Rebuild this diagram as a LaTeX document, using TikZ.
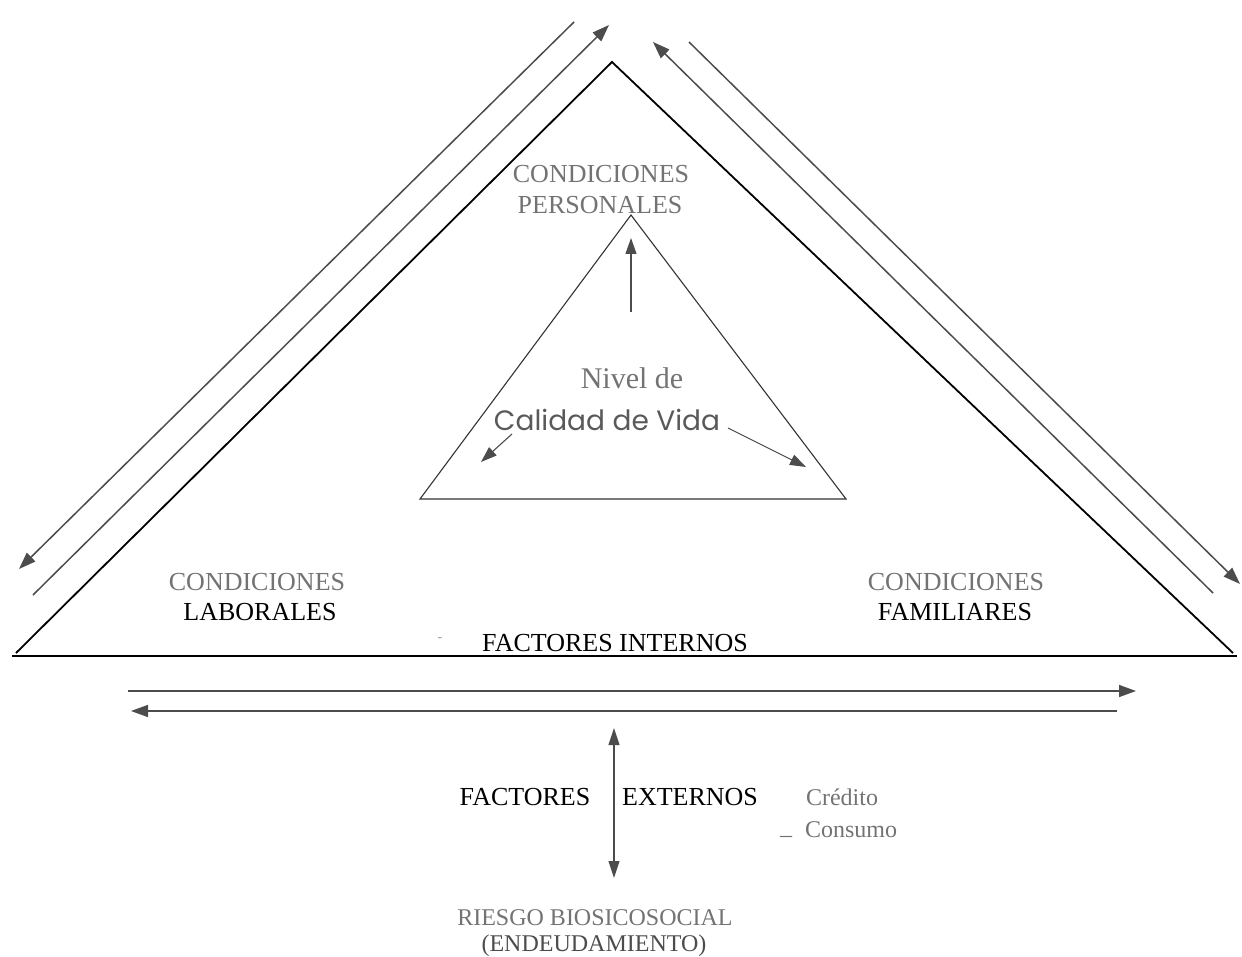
\documentclass[tikz,border=0pt]{standalone}
\usepackage{fontspec}
\setmainfont{Liberation Serif}
\newfontfamily\geofont{Poppins}
\usetikzlibrary{arrows.meta}
\begin{document}
\begin{tikzpicture}[x=1pt,y=-1pt,
  lbl/.style={font=\fontsize{26}{28}\selectfont, inner sep=0pt, anchor=center},
  dim/.style={text=black!55},
  small/.style={font=\fontsize{24}{26}\selectfont, inner sep=0pt, anchor=center},
  frame/.style={draw=black, line width=1.8pt, line join=miter},
  innerframe/.style={draw=black!80, line width=1.1pt, line join=miter},
  flow/.style={draw=black!70, line width=1.5pt, -{Triangle[length=17pt,width=12pt]}},
  thinflow/.style={draw=black!70, line width=1.1pt, -{Triangle[length=16pt,width=11pt]}},
  both/.style={draw=black!70, line width=1.1pt, {Triangle[length=17pt,width=11pt]}-{Triangle[length=17pt,width=11pt]}}]
\useasboundingbox (0,0) rectangle (1242,957);

% outer triangle
\coordinate (A) at (612,62);
\coordinate (BL) at (16,653);
\coordinate (BR) at (1233,653);
\coordinate (BLx) at (12,656);
\coordinate (BRx) at (1237,656);
\draw[frame] (BR) -- (A) -- (BL);
\draw[frame] (BLx) -- (BRx);

% inner triangle
\coordinate (a) at (631,215);
\coordinate (bl) at (420,499);
\coordinate (br) at (846,499);
\draw[innerframe] (a) -- (bl) -- (br) -- cycle;

% left parallel arrows
\coordinate (L1s) at (574,22);
\coordinate (L1e) at (19,569);
\coordinate (L2s) at (33,595);
\coordinate (L2e) at (609,25);
\draw[flow] (L1s) -- (L1e);
\draw[flow] (L2s) -- (L2e);

% right parallel arrows
\coordinate (R1s) at (1213,593);
\coordinate (R1e) at (653,42);
\coordinate (R2s) at (689,42);
\coordinate (R2e) at (1240,584);
\draw[flow] (R1s) -- (R1e);
\draw[flow] (R2s) -- (R2e);

% horizontal arrows
\coordinate (H1s) at (128,691);
\coordinate (H1e) at (1136,691);
\coordinate (H2s) at (1117,711);
\coordinate (H2e) at (131,711);
\draw[flow] (H1s) -- (H1e);
\draw[flow] (H2s) -- (H2e);

% texts
\node[lbl,dim] (cp1) at (601,174) {CONDICIONES};
\node[lbl,dim] (cp2) at (600,205) {PERSONALES};
\node[lbl,dim] (cl1) at (257,582) {CONDICIONES};
\node[lbl] (cl2) at (260,612) {LABORALES};
\node[lbl,dim] (cf1) at (956,582) {CONDICIONES};
\node[lbl] (cf2) at (955,612) {FAMILIARES};
\node[lbl] (fi) at (615,643) {FACTORES INTERNOS};
\node[font=\fontsize{14}{16}\selectfont, text=black!40, inner sep=0pt] (dash) at (440,640) {-};

\node[font=\fontsize{30}{32}\selectfont, inner sep=0pt, dim] (nivel) at (632,378) {Nivel de};
\node[font=\geofont\fontsize{28}{30}\selectfont, inner sep=0pt, text=black!65] (cal) at (607,420) {Calidad de Vida};

% inner arrows
\coordinate (vup) at (631,312);
\coordinate (vtip) at (631,238);
\draw[thinflow] (vup) -- (vtip);
\coordinate (cl) at (512,434);
\coordinate (clt) at (481,462);
\draw[thinflow] (cl) -- (clt);
\coordinate (cr) at (728,428);
\coordinate (crt) at (806,467);
\draw[thinflow] (cr) -- (crt);

% external factors
\coordinate (vt) at (614,728);
\coordinate (vb) at (614,878);
\draw[both] (vt) -- (vb);
\node[lbl] (fe1) at (525,797) {FACTORES};
\node[lbl] (fe2) at (690,797) {EXTERNOS};
\node[small,dim] (cred) at (842,797) {Crédito};
\node[small,dim] (cons) at (851,830) {Consumo};
\node[small,dim] (us) at (786,836) {\_};
\node[font=\fontsize{24}{26}\selectfont, inner sep=0pt, dim] (r1) at (595,918) {RIESGO BIOSICOSOCIAL};
\node[font=\fontsize{24}{26}\selectfont, inner sep=0pt, text=black!70] (r2) at (594,946) {(ENDEUDAMIENTO)};
\end{tikzpicture}
\end{document}
